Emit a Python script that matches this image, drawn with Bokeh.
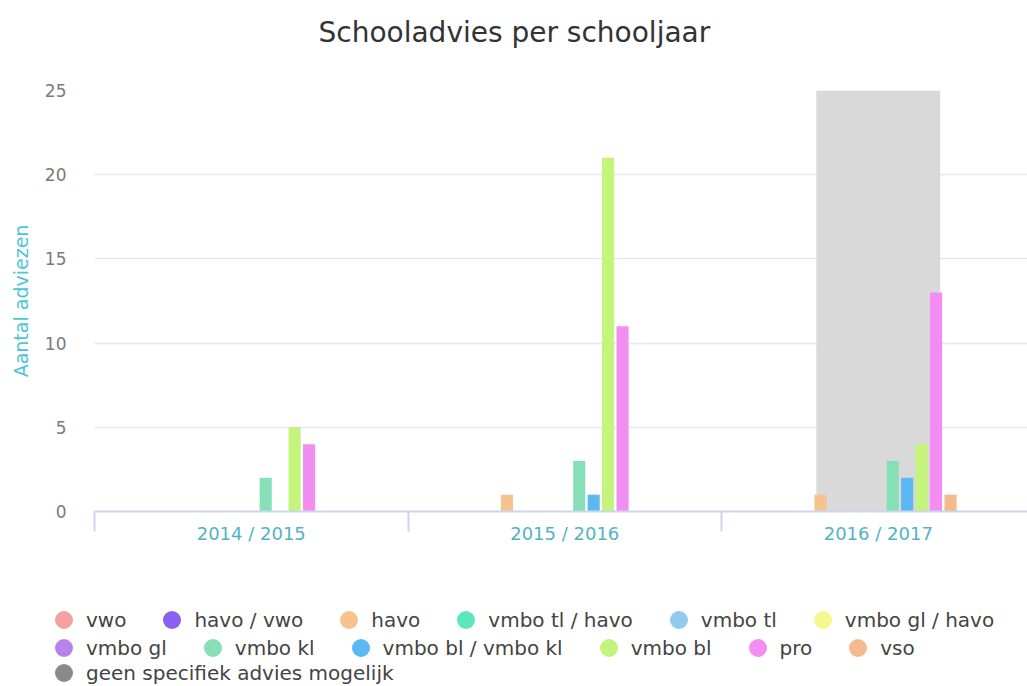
from bokeh.plotting import figure
from bokeh.models import Range1d, FixedTicker, Legend, LegendItem, Label
from bokeh.embed import file_html
from bokeh.resources import INLINE

# ---- data ----
title_text = "Schooladvies per schooljaar"
categories = ["2014 / 2015", "2015 / 2016", "2016 / 2017"]
series_names = ["vwo", "havo / vwo", "havo", "vmbo tl / havo", "vmbo tl",
                "vmbo gl / havo", "vmbo gl", "vmbo kl", "vmbo bl / vmbo kl",
                "vmbo bl", "pro", "vso", "geen specifiek advies mogelijk"]
vwo = [0, 0, 0]
havo_vwo = [0, 0, 0]
havo = [0, 1, 1]
vmbo_tl_havo = [0, 0, 0]
vmbo_tl = [0, 0, 0]
vmbo_gl_havo = [0, 0, 0]
vmbo_gl = [0, 0, 0]
vmbo_kl = [2, 3, 3]
vmbo_bl_vmbo_kl = [0, 1, 2]
vmbo_bl = [5, 21, 4]
pro = [4, 11, 13]
vso = [0, 0, 1]
geen = [0, 0, 25]
y_ticks = [0, 5, 10, 15, 20, 25]

series_values = [vwo, havo_vwo, havo, vmbo_tl_havo, vmbo_tl, vmbo_gl_havo,
                 vmbo_gl, vmbo_kl, vmbo_bl_vmbo_kl, vmbo_bl, pro, vso, geen]
colors = ["#f4a0a0", "#8c5ff0", "#f6c38e", "#5be6c0", "#92c9ee", "#f6f78e",
          "#b883ea", "#86dfb6", "#5cb8f2", "#c5f47c", "#f28ef2", "#f5b98d",
          "#8a8a8a"]
geen_bar_color = "#d9d9d9"

FONT = "DejaVu Sans"


def blank(height):
    f = figure(width=1027, height=height, output_backend="svg",
               toolbar_location=None, x_range=Range1d(0, 1), y_range=Range1d(0, 1),
               min_border_left=0, min_border_right=0, min_border_top=0,
               min_border_bottom=0)
    f.axis.visible = False
    f.grid.visible = False
    f.outline_line_color = None
    return f


# ---- title strip ----
tf = blank(60)
tf.add_layout(Label(x=318, y=28, x_units="screen", y_units="screen",
                    text=title_text, text_font=FONT, text_font_size="28px",
                    text_color="#333333", text_align="left",
                    text_baseline="alphabetic"))

# ---- main chart ----
p = figure(width=1027, height=540, output_backend="svg", toolbar_location=None,
           x_range=Range1d(-0.5, 2.476), y_range=Range1d(0, 25),
           min_border_left=94, min_border_right=0, min_border_top=30,
           min_border_bottom=89)
p.outline_line_color = None
p.background_fill_color = "white"

# grey column (last series), drawn first so the others sit on top
idx = list(range(len(categories)))
p.vbar(x=idx, top=geen, width=0.395, color=geen_bar_color, line_color=None)

slot = 14.45 / 313.5
bw = slot * 0.84
n_group = 13
for k in range(12):
    xs = [i + (k - (n_group - 1) / 2) * slot for i in idx]
    p.vbar(x=xs, top=series_values[k], width=bw, color=colors[k], line_color=None)

# axes
p.xaxis.ticker = FixedTicker(ticks=idx, minor_ticks=[-0.5, 0.5, 1.5, 2.5])
p.xaxis.major_label_overrides = {i: c for i, c in zip(idx, categories)}
p.xaxis.major_tick_out = 0
p.xaxis.major_tick_in = 0
p.xaxis.minor_tick_out = 20
p.xaxis.minor_tick_in = 0
p.xaxis.minor_tick_line_color = "#ccd6eb"
p.xaxis.minor_tick_line_width = 2
p.xaxis.axis_line_color = "#ccd6eb"
p.xaxis.axis_line_width = 2
p.xaxis.major_label_standoff = -9
p.xaxis.major_label_text_font = FONT
p.xaxis.major_label_text_font_size = "18px"
p.xaxis.major_label_text_color = "#52b3c4"

p.yaxis.ticker = FixedTicker(ticks=y_ticks)
p.yaxis.axis_line_color = None
p.yaxis.major_tick_line_color = None
p.yaxis.minor_tick_line_color = None
p.yaxis.major_tick_out = 0
p.yaxis.major_label_standoff = 28
p.yaxis.major_label_text_font = FONT
p.yaxis.major_label_text_font_size = "17px"
p.yaxis.major_label_text_color = "#7a7a7a"
p.yaxis.axis_label = "Aantal adviezen"
p.yaxis.axis_label_text_font = FONT
p.yaxis.axis_label_text_font_size = "19px"
p.yaxis.axis_label_text_font_style = "normal"
p.yaxis.axis_label_text_color = "#4cc7d4"
p.yaxis.axis_label_standoff = 10

p.xgrid.grid_line_color = None
p.ygrid.grid_line_color = "#e8e8e8"
p.ygrid.grid_line_width = 1.5

# ---- legend strip ----
lf = blank(86)
nan = float("nan")
legend_renderers = []
for k in range(len(series_names)):
    r = lf.scatter(x=[nan], y=[nan], marker="circle", size=18,
                   fill_color=colors[k], line_color=None)
    legend_renderers.append(r)

rows = [list(range(0, 6)), list(range(6, 12)), [12]]
row_offsets = [44, 16, -9]
for row, vy in zip(rows, row_offsets):
    items = [LegendItem(label=series_names[k], renderers=[legend_renderers[k]]) for k in row]
    lg = Legend(items=items, orientation="horizontal", location=(41, vy),
                glyph_width=45, glyph_height=45, label_height=24,
                label_standoff=0, spacing=23, padding=0, margin=0,
                border_line_color=None, background_fill_alpha=0,
                label_text_font=FONT, label_text_font_size="20px",
                label_text_color="#444444")
    lf.add_layout(lg, "center")

open("out.html", "w").write(file_html([tf, p, lf], INLINE))
